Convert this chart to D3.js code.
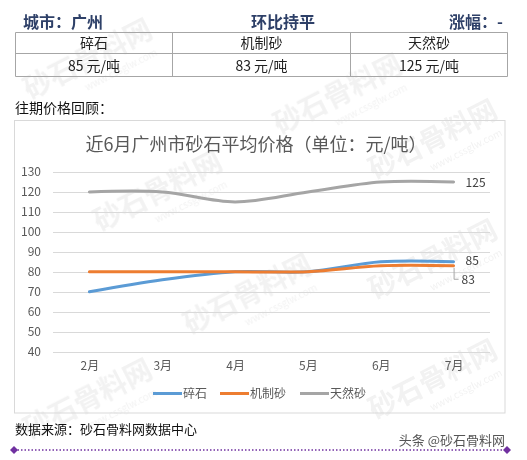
<!DOCTYPE html>
<html><head><meta charset="utf-8">
<script src="https://cdn.jsdelivr.net/npm/d3@7"></script>
<style>body{margin:0;background:#fff;} svg{display:block;}</style>
</head><body>
<svg id="c" width="527" height="460"></svg>
<script>
const months = ["2月","3月","4月","5月","6月","7月"];
const seriesNames = ["碎石","机制砂","天然砂"];
const suishi = [70, 76, 80, 80, 85, 85];
const jizhisha = [80, 80, 80, 80, 83, 83];
const tianransha = [120, 120, 115, 120, 125, 125];
const yTicks = [40,50,60,70,80,90,100,110,120,130];
const tablePrices = ["85 元/吨","83 元/吨","125 元/吨"];
const colors = ["#5b9bd5","#ed7d31","#a5a5a5"];
const FONT = "'Noto Sans CJK SC', 'Noto Sans', sans-serif";

const svg = d3.select("#c").style("font-family", FONT);

// watermarks (kept inside the canvas)
const wm = svg.append("g").attr("fill","#b5b5b5").attr("opacity",0.18);
const wms = [[30,100],[280,135],[100,232],[190,335],[375,300],[375,420],[30,440],[375,180]];
wms.forEach(([x,y])=>{
  const g = wm.append("g").attr("transform",`translate(${x},${y}) rotate(-27)`);
  g.append("text").text("砂石骨料网").attr("font-size",28).attr("font-weight","bold");
  g.append("text").text("www.cssglw.com").attr("x",55).attr("y",18).attr("font-size",10);
});

// header
const hdr = svg.append("g").attr("fill","#2e4068").attr("font-weight","bold").attr("font-size",16);
hdr.append("text").attr("x",23).attr("y",28).text("城市：广州");
hdr.append("text").attr("x",283).attr("y",28).attr("text-anchor","middle").text("环比持平");
hdr.append("text").attr("x",503).attr("y",28).attr("text-anchor","end").text("涨幅：-");

// table
const colX = [15.5,172.5,350.5,507.5];
const tb = svg.append("g");
const rows = [32.5,53.5,76.5];
rows.forEach(y=>tb.append("line").attr("x1",colX[0]).attr("x2",colX[3]).attr("y1",y).attr("y2",y).attr("stroke","#a6a6a6"));
colX.forEach(x=>tb.append("line").attr("x1",x).attr("x2",x).attr("y1",rows[0]).attr("y2",rows[2]).attr("stroke","#a6a6a6"));
seriesNames.forEach((n,i)=>{
  const cx = (colX[i]+colX[i+1])/2;
  tb.append("text").attr("x",cx).attr("y",48).attr("text-anchor","middle").attr("font-size",14).attr("fill","#222").text(n);
  tb.append("text").attr("x",cx).attr("y",71).attr("text-anchor","middle").attr("font-size",14).attr("fill","#222").text(tablePrices[i]);
});

svg.append("text").attr("x",15).attr("y",113).attr("font-size",14).attr("fill","#111").text("往期价格回顾：");

// chart box
svg.append("rect").attr("x",14.5).attr("y",120.5).attr("width",490.5).attr("height",292.5).attr("fill","none").attr("stroke","#d9d9d9");
svg.append("text").attr("x",256).attr("y",151).attr("text-anchor","middle").attr("font-size",18).attr("fill","#595959").text("近6月广州市砂石平均价格（单位：元/吨）");

const x = d3.scalePoint().domain(months).range([53,490]).padding(0.5);
const y = d3.scaleLinear().domain([40,130]).range([351.5,172]);

const grid = svg.append("g");
yTicks.forEach(t=>{
  grid.append("line").attr("x1",53).attr("x2",490).attr("y1",Math.round(y(t))+0.5).attr("y2",Math.round(y(t))+0.5).attr("stroke","#d9d9d9");
});
const yAxis = svg.append("g").attr("transform","translate(53,0)")
  .call(d3.axisLeft(y).tickValues(yTicks).tickSize(0).tickPadding(12));
yAxis.select(".domain").remove();
yAxis.selectAll("text").attr("font-size",12).attr("fill","#595959").style("font-family",FONT);

const xAxis = svg.append("g").attr("transform","translate(0,358)")
  .call(d3.axisBottom(x).tickSize(0).tickPadding(3));
xAxis.select(".domain").remove();
xAxis.selectAll("text").attr("font-size",12).attr("fill","#595959").style("font-family",FONT);

const line = d3.line().x((d,i)=>x(months[i])).y(d=>y(d)).curve(d3.curveCatmullRom.alpha(0));
const all = [suishi, jizhisha, tianransha];
[2,0,1].forEach(k=>{
  svg.append("path").attr("d",line(all[k])).attr("fill","none").attr("stroke",colors[k]).attr("stroke-width",3).attr("stroke-linecap","round");
});

// data labels
const lx = x(months[5]);
svg.append("text").attr("x",lx+12).attr("y",y(125)+5).attr("font-size",12).attr("fill","#404040").text(tianransha[5]);
svg.append("text").attr("x",lx+12).attr("y",y(85)+3).attr("font-size",12).attr("fill","#404040").text(suishi[5]);
svg.append("path").attr("d",`M${lx+0.5},${y(83)+2}V${y(83)+13.5}H${lx+5}`).attr("fill","none").attr("stroke","#a6a6a6");
svg.append("text").attr("x",lx+8).attr("y",y(83)+18).attr("font-size",12).attr("fill","#404040").text(jizhisha[5]);

// legend
const leg = svg.append("g");
const legX = [153,220,300];
seriesNames.forEach((n,i)=>{
  leg.append("line").attr("x1",legX[i]).attr("x2",legX[i]+29).attr("y1",393.5).attr("y2",393.5).attr("stroke",colors[i]).attr("stroke-width",3);
  leg.append("text").attr("x",legX[i]+30).attr("y",398).attr("font-size",12).attr("fill","#595959").text(n);
});

// footer
svg.append("text").attr("x",15).attr("y",434).attr("font-size",13).attr("fill","#111").text("数据来源：砂石骨料网数据中心");
svg.append("text").attr("x",505).attr("y",445).attr("text-anchor","end").attr("font-size",13).attr("fill","#555").text("头条 @砂石骨料网");
svg.append("line").attr("x1",14).attr("x2",507).attr("y1",450).attr("y2",450).attr("stroke","#7030a0").attr("stroke-width",1.5).attr("stroke-dasharray","1.5,2");
[14,507].forEach(cx=>svg.append("path").attr("d",`M${cx},${446}L${cx+4},450L${cx},454L${cx-4},450Z`).attr("fill","#7030a0"));
</script>
</body></html>
